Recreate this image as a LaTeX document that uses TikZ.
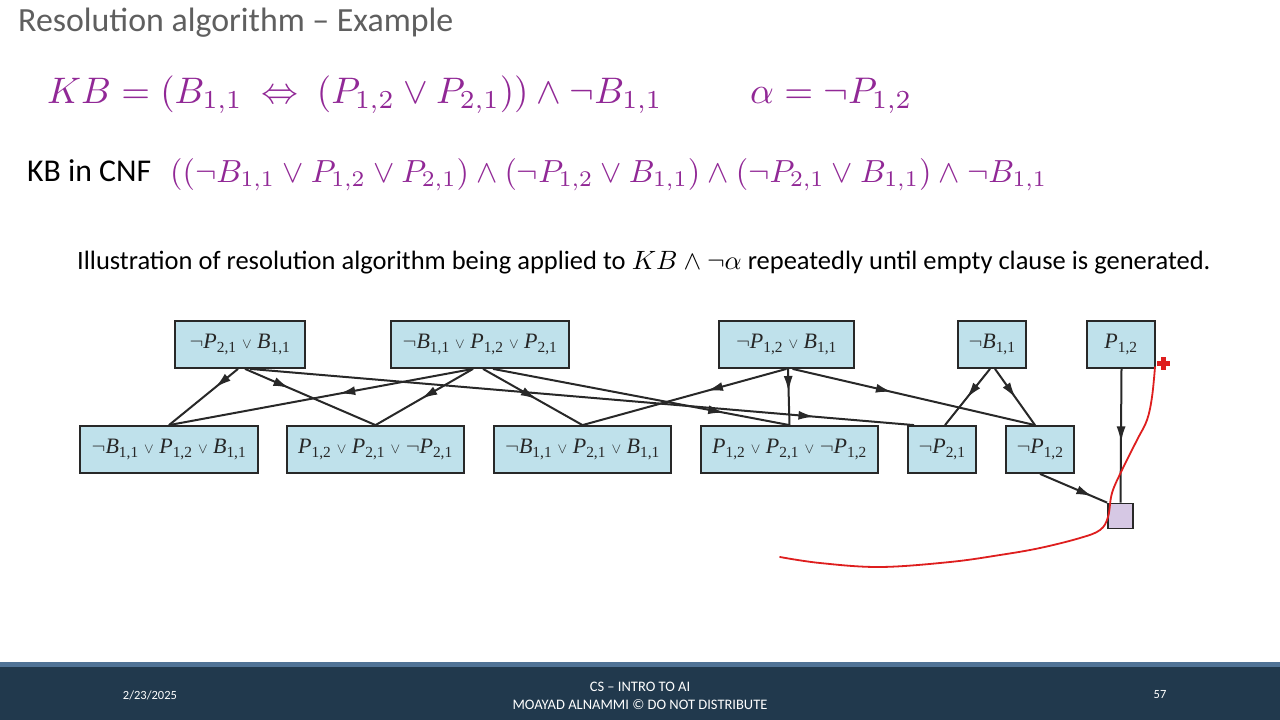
\documentclass[tikz,border=0pt]{standalone}
\usepackage{graphicx}
\usepackage{fontspec}
\setmainfont{Carlito}
\newfontfamily\tms{Liberation Serif}
\usetikzlibrary{arrows.meta,decorations.markings,calc}
\definecolor{boxfill}{RGB}{191,225,235}
\definecolor{boxline}{RGB}{40,40,40}
\definecolor{purp}{RGB}{145,40,150}
\definecolor{titlegray}{RGB}{95,95,95}
\definecolor{footdark}{RGB}{33,57,77}
\definecolor{footlight}{RGB}{80,115,150}
\definecolor{lav}{RGB}{214,200,228}
\definecolor{annot}{RGB}{222,30,30}
\newcommand\Pv[1]{\textit{P}\textsubscript{#1}}
\newcommand\Bv[1]{\textit{B}\textsubscript{#1}}
\newcommand\orr{\ $\scriptstyle\vee$\ }
\newcommand\fitw[2]{\resizebox{#1}{!}{\fontsize{10}{12}\selectfont #2}}
\tikzset{
  clause/.style={draw=boxline, line width=1.8pt, fill=boxfill, minimum height=47pt, inner sep=0pt,
    font=\tms\fontsize{22}{22}\selectfont, text=black!85},
  emptybox/.style={draw=boxline, line width=1.8pt, fill=lav, minimum width=25pt, minimum height=25pt, inner sep=0pt},
  edge/.style={draw=boxline, line width=2pt},
  mk/.style={postaction={decorate,decoration={markings,mark=at position #1 with {\arrow{Latex[length=16pt,width=9pt]}}}}},
  txt/.style={anchor=base west, inner sep=0pt},
  foot/.style={text=white, inner sep=0pt, font=\fontsize{12.5}{14}\selectfont}
}
\begin{document}
\begin{tikzpicture}[x=1pt,y=-1pt]
\useasboundingbox (0,0) rectangle (1280,720);
\fill[white] (0,0) rectangle (1280,720);
% texts
\node[txt, text=titlegray] (title) at (18,31) {\fitw{435pt}{Resolution algorithm -- Example}};
\node[txt, text=purp] (kb) at (47,103) {\fitw{615pt}{$KB = (B_{1,1}\ \Leftrightarrow\ (P_{1,2} \vee P_{2,1})) \wedge \neg B_{1,1}$}};
\node[txt, text=purp] (alpha) at (750,103) {\fitw{162pt}{$\alpha = \neg P_{1,2}$}};
\node[txt] (cnflab) at (27,181) {\fitw{124pt}{KB in CNF}};
\node[txt, text=purp] (cnf) at (170,182) {\fitw{877pt}{$((\neg B_{1,1} \vee P_{1,2} \vee P_{2,1}) \wedge (\neg P_{1,2} \vee B_{1,1}) \wedge (\neg P_{2,1} \vee B_{1,1}) \wedge \neg B_{1,1}$}};
\node[txt] (illus) at (77,269) {\fitw{1133pt}{Illustration of resolution algorithm being applied to $KB \wedge \neg\alpha$ repeatedly until empty clause is generated.}};
% clauses
\node[clause, minimum width=130pt] (T1) at (240,344.5) {$\neg$\Pv{2,1}\orr\Bv{1,1}};
\node[clause, minimum width=178pt] (T2) at (480,344.5) {$\neg$\Bv{1,1}\orr\Pv{1,2}\orr\Pv{2,1}};
\node[clause, minimum width=135pt] (T3) at (786.5,344.5) {$\neg$\Pv{1,2}\orr\Bv{1,1}};
\node[clause, minimum width=68pt] (T4) at (992,344.5) {$\neg$\Bv{1,1}};
\node[clause, minimum width=68pt] (T5) at (1121,344.5) {\Pv{1,2}};
\node[clause, minimum width=178pt] (B1) at (169,449.5) {$\neg$\Bv{1,1}\orr\Pv{1,2}\orr\Bv{1,1}};
\node[clause, minimum width=177pt] (B2) at (375.5,449.5) {\Pv{1,2}\orr\Pv{2,1}\orr$\neg$\Pv{2,1}};
\node[clause, minimum width=177pt] (B3) at (582.5,449.5) {$\neg$\Bv{1,1}\orr\Pv{2,1}\orr\Bv{1,1}};
\node[clause, minimum width=177pt] (B4) at (789.5,449.5) {\Pv{1,2}\orr\Pv{2,1}\orr$\neg$\Pv{1,2}};
\node[clause, minimum width=68pt] (B5) at (942,449.5) {$\neg$\Pv{2,1}};
\node[clause, minimum width=68pt] (B6) at (1040,449.5) {$\neg$\Pv{1,2}};
\node[emptybox] (E) at (1120.5,516) {};
% edges
\draw[edge,mk=0.33] ($(T1.south)+(-2,0)$) -- (B1.north);
\draw[edge,mk=0.34] ($(T1.south)+(5,0)$) -- (B2.north);
\draw[edge,mk=0.85] ($(T1.south)+(10,0)$) -- ($(B5.north west)+(7,0)$);
\draw[edge,mk=0.44] ($(T2.south)+(-7,0)$) -- (B1.north);
\draw[edge,mk=0.53] ($(T2.south)+(-7,0)$) -- (B2.north);
\draw[edge,mk=0.54] ($(T2.south)+(3,0)$) -- (B3.north);
\draw[edge,mk=0.78] ($(T2.south)+(13,0)$) -- (B4.north);
\draw[edge,mk=0.39] (T3.south) -- (B3.north);
\draw[edge,mk=0.41] ($(T3.south)+(1.5,0)$) -- (B4.north);
\draw[edge,mk=0.41] ($(T3.south)+(6,0)$) -- ($(B6.north)+(-5,0)$);
\draw[edge,mk=0.52] ($(T4.south)+(-2,0)$) -- ($(B5.north)+(3,0)$);
\draw[edge,mk=0.52] ($(T4.south)+(3,0)$) -- ($(B6.north)+(-5,0)$);
\draw[edge,mk=0.55] ($(T5.south)+(0.5,0)$) -- (E.north);
\draw[edge,mk=0.78] (B6.south) -- (E.north west);
% red annotation
\draw[annot, line width=1.8pt, line cap=round] plot[smooth, tension=0.6] coordinates {(780,557) (820,563) (880,567) (950,562) (1000,555) (1040,548) (1080,538) (1100,530) (1108,517) (1112,493) (1122,470) (1137,440) (1147,420) (1152,397) (1155,367)};
\fill[annot] (1160.5,356.5) rectangle (1166,370);
\fill[annot] (1156.5,360.5) rectangle (1170,366);
% footer
\fill[footdark] (0,667) rectangle (1280,720);
\fill[footlight] (0,662) rectangle (1280,667);
\node[foot] (date) at (150,695) {2/23/2025};
\node[foot, font=\fontsize{14.5}{16}\selectfont] (course) at (640,687) {CS -- INTRO TO AI};
\node[foot, font=\fontsize{14.5}{16}\selectfont] (author) at (640,705) {MOAYAD ALNAMMI \textcopyright{} DO NOT DISTRIBUTE};
\node[foot] (page) at (1160,695) {57};
\end{tikzpicture}
\end{document}
